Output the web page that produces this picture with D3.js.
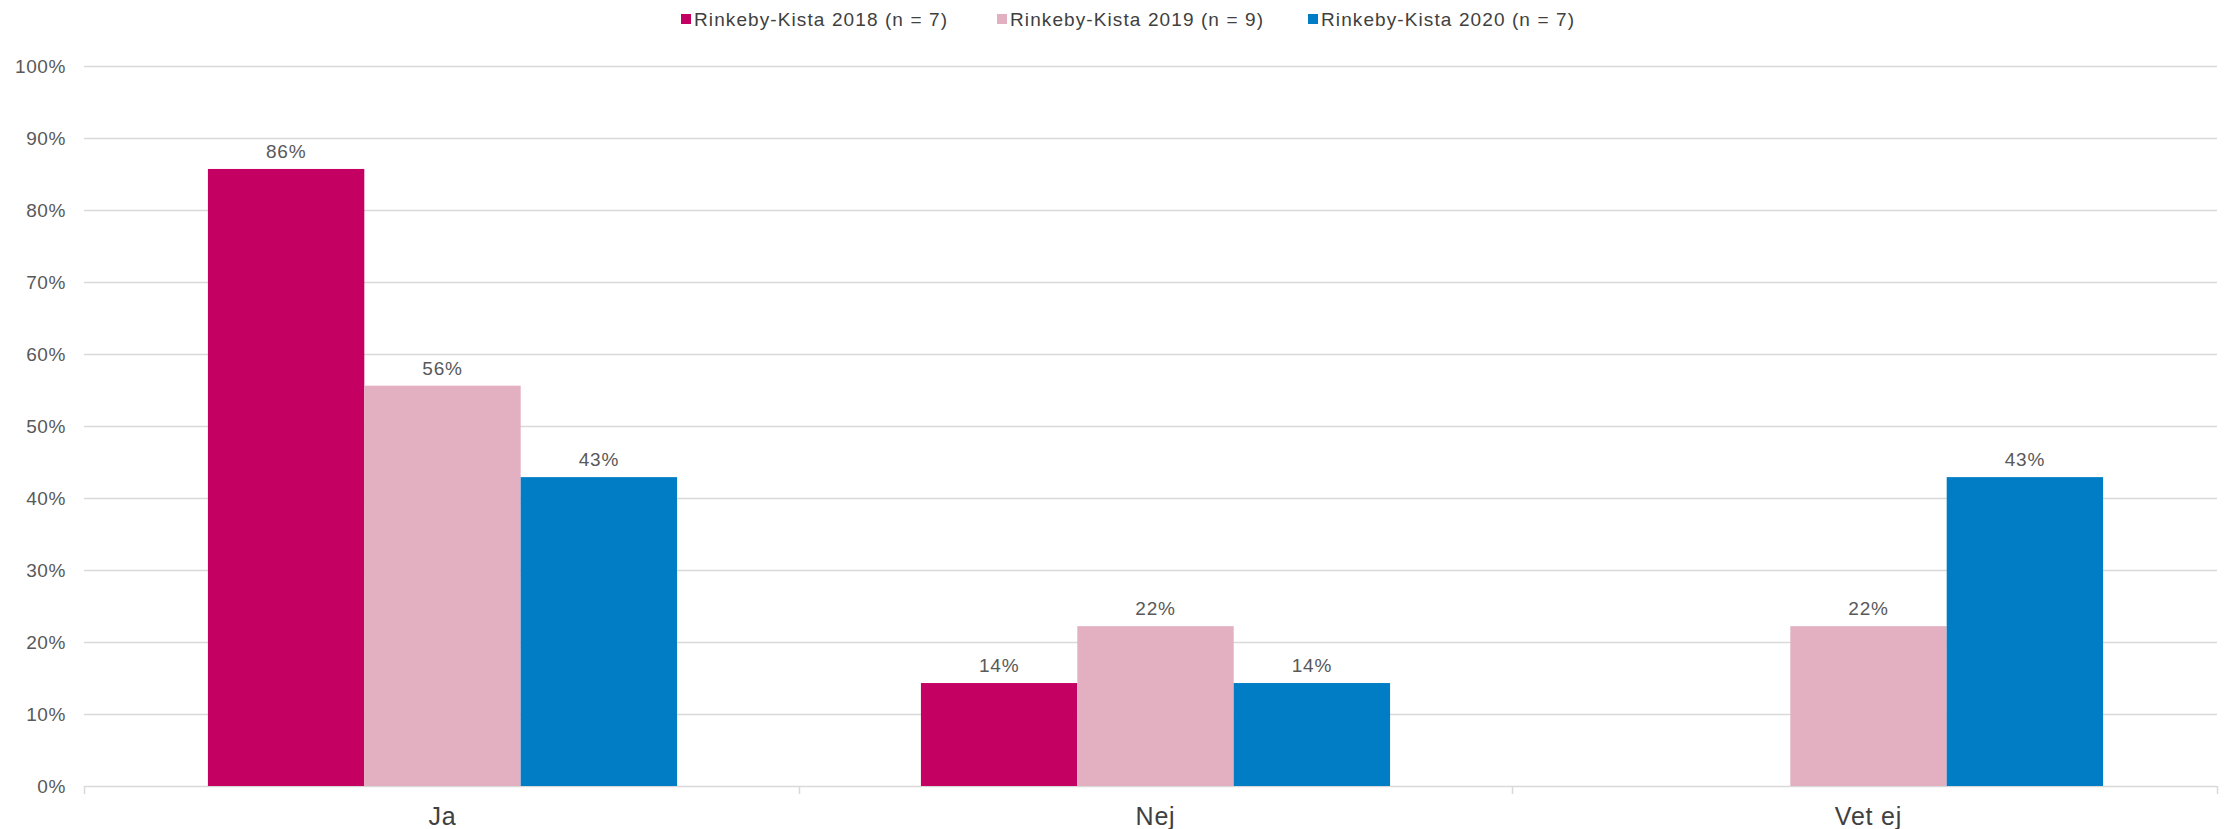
<!DOCTYPE html>
<html>
<head>
<meta charset="utf-8">
<script src="https://cdn.jsdelivr.net/npm/d3@7"></script>
<style>
  body { margin: 0; background: #fff; }
  text { font-family: "Liberation Sans", Arial, sans-serif; }
</style>
</head>
<body>
<svg></svg>
<script>
var vWidth = 2234;
var vHeight = 829;

// data
var categories = ['Ja', 'Nej', 'Vet ej'];
var seriesNames = ['Rinkeby-Kista 2018 (n = 7)', 'Rinkeby-Kista 2019 (n = 9)', 'Rinkeby-Kista 2020 (n = 7)'];
var values2018 = [0.857, 0.143, 0];
var values2019 = [0.556, 0.222, 0.222];
var values2020 = [0.429, 0.143, 0.429];
var seriesColors = ['#c40062', '#e2b0c1', '#007dc4'];
var yTicks = [0, 0.1, 0.2, 0.3, 0.4, 0.5, 0.6, 0.7, 0.8, 0.9, 1];

var allValues = [values2018, values2019, values2020];

var margin = { top: 66, right: 17, bottom: 43, left: 84 };
var plotRight = vWidth - margin.right;

var svg = d3.select('svg')
    .attr('width', vWidth)
    .attr('height', vHeight);

// category bands run a bit past the gridlines on the right, like the original
var x0 = d3.scaleBand()
    .domain(categories)
    .range([86, 2225])
    .paddingInner(0.342)
    .paddingOuter(0.171);

var x1 = d3.scaleBand()
    .domain(d3.range(seriesNames.length))
    .range([0, x0.bandwidth()]);

var y = d3.scaleLinear()
    .domain([0, 1])
    .range([vHeight - margin.bottom, margin.top]);

// gridlines
svg.append('g')
    .selectAll('line')
    .data(yTicks)
    .enter()
    .append('line')
    .attr('x1', margin.left)
    .attr('x2', plotRight)
    .attr('y1', function (d) { return Math.round(y(d)) + 0.5; })
    .attr('y2', function (d) { return Math.round(y(d)) + 0.5; })
    .style('stroke', '#d9d9d9')
    .style('stroke-width', 1.5);

// y labels
svg.append('g')
    .selectAll('text')
    .data(yTicks)
    .enter()
    .append('text')
    .attr('x', 66)
    .attr('y', function (d) { return y(d); })
    .attr('dy', '0.35em')
    .attr('text-anchor', 'end')
    .style('font-size', '19px')
    .style('letter-spacing', '0.6px')
    .style('fill', '#595959')
    .text(d3.format('.0%'));

// category separator ticks
var step = x0.step();
var tickPos = d3.range(categories.length + 1).map(function (i) {
    if (i == 0) return margin.left;
    return Math.min(x0.range()[0] + i * step, plotRight);
});
svg.append('g')
    .selectAll('line')
    .data(tickPos)
    .enter()
    .append('line')
    .attr('x1', function (d) { return Math.round(d) + 0.5; })
    .attr('x2', function (d) { return Math.round(d) + 0.5; })
    .attr('y1', y(0))
    .attr('y2', y(0) + 8)
    .style('stroke', '#d9d9d9')
    .style('stroke-width', 1.5);

// bars
var groups = svg.append('g')
    .selectAll('g')
    .data(categories)
    .enter()
    .append('g')
    .attr('transform', function (d) { return 'translate(' + x0(d) + ',0)'; });

var cells = groups.selectAll('g')
    .data(function (d, i) {
        return allValues.map(function (vals, s) { return { s: s, v: vals[i] }; });
    })
    .enter()
    .append('g');

cells.filter(function (d) { return d.v > 0; })
    .append('rect')
    .attr('x', function (d) { return x1(d.s); })
    .attr('width', x1.bandwidth())
    .attr('y', function (d) { return y(d.v); })
    .attr('height', function (d) { return y(0) - y(d.v); })
    .style('fill', function (d) { return seriesColors[d.s]; });

cells.filter(function (d) { return d.v > 0; })
    .append('text')
    .attr('x', function (d) { return x1(d.s) + x1.bandwidth() / 2; })
    .attr('y', function (d) { return y(d.v) - 11; })
    .attr('text-anchor', 'middle')
    .style('font-size', '19px')
    .style('letter-spacing', '0.8px')
    .style('fill', '#595959')
    .text(function (d) { return d3.format('.0%')(d.v); });

// x labels
svg.append('g')
    .selectAll('text')
    .data(categories)
    .enter()
    .append('text')
    .attr('x', function (d) { return x0(d) + x0.bandwidth() / 2; })
    .attr('y', 825)
    .attr('text-anchor', 'middle')
    .style('font-size', '25px')
    .style('letter-spacing', '0.8px')
    .style('fill', '#404040')
    .text(function (d) { return d; });

// legend
var legendX = [681, 997, 1308];
var legend = svg.append('g')
    .selectAll('g')
    .data(seriesNames)
    .enter()
    .append('g')
    .attr('transform', function (d, i) { return 'translate(' + legendX[i] + ',19)'; });

legend.append('rect')
    .attr('x', 0)
    .attr('y', -5)
    .attr('width', 10)
    .attr('height', 10)
    .style('fill', function (d, i) { return seriesColors[i]; });

legend.append('text')
    .attr('x', 13)
    .attr('y', 0)
    .attr('dy', '0.35em')
    .style('font-size', '19px')
    .style('letter-spacing', '1.1px')
    .style('fill', '#404040')
    .text(function (d) { return d; });
</script>
</body>
</html>
